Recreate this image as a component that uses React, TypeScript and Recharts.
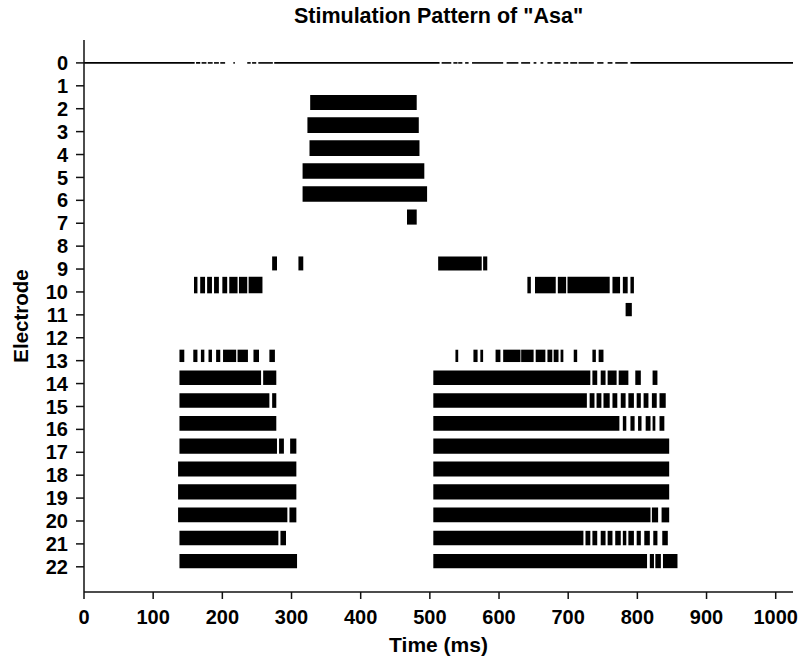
import { ComposedChart, ReferenceArea, Scatter, XAxis, YAxis } from 'recharts';

const FONT = "'Liberation Sans', Arial, sans-serif";

const X_TICKS = [0, 100, 200, 300, 400, 500, 600, 700, 800, 900, 1000];
const ELECTRODES = [0, 1, 2, 3, 4, 5, 6, 7, 8, 9, 10, 11, 12, 13, 14, 15, 16, 17, 18, 19, 20, 21, 22];

// pulse trains per electrode, [start ms, end ms]
const E0 = [
  [0, 160], [162, 168], [170, 177], [179, 186], [188, 195], [197, 204], [216, 218],
  [236, 241], [243, 249], [252, 273], [275, 514], [517, 531], [534, 540], [541, 547],
  [551, 556], [561, 606], [611, 628], [632, 645], [650, 654], [660, 664], [670, 677],
  [680, 689], [693, 700], [703, 713], [715, 737], [742, 751], [757, 764], [768, 786],
  [790, 1025],
];
const E2 = [[327, 481]];
const E3 = [[323, 484]];
const E4 = [[326, 485]];
const E5 = [[316, 492]];
const E6 = [[316, 496]];
const E7 = [[467, 481]];
const E9 = [[272, 279], [310, 317], [512, 575], [577, 583]];
const E10 = [
  [159, 164], [168, 175], [178, 185], [188, 195], [200, 207], [210, 222], [224, 236], [238, 258],
  [641, 646], [652, 682], [685, 697], [699, 760], [764, 775], [779, 786], [790, 795],
];
const E11 = [[783, 792]];
const E13 = [
  [138, 145], [158, 164], [169, 174], [180, 185], [191, 197], [201, 220], [222, 237], [245, 253],
  [268, 276], [537, 541], [563, 569], [573, 577], [595, 602], [606, 631], [632, 650], [653, 667],
  [670, 677], [679, 686], [689, 693], [708, 713], [735, 740], [744, 751],
];
const E14 = [
  [138, 256], [259, 278], [505, 732], [735, 742], [747, 754], [757, 770], [773, 787], [797, 805],
  [822, 829],
];
const E15 = [
  [138, 268], [272, 278], [505, 727], [731, 738], [741, 748], [751, 760], [764, 771], [776, 783],
  [787, 795], [799, 805], [809, 816], [821, 828], [832, 841],
];
const E16 = [
  [138, 278], [505, 774], [779, 784], [790, 796], [801, 806], [812, 819], [822, 826], [832, 839],
];
const E17 = [[138, 279], [282, 289], [298, 307], [505, 846]];
const E18 = [[136, 307], [505, 846]];
const E19 = [[136, 307], [505, 846]];
const E20 = [[136, 294], [297, 307], [505, 819], [821, 830], [835, 846]];
const E21 = [
  [138, 281], [284, 292], [505, 722], [725, 732], [735, 742], [747, 754], [757, 764], [768, 776],
  [779, 784], [787, 795], [799, 805], [810, 818], [823, 829], [836, 844],
];
const E22 = [[138, 308], [505, 814], [818, 824], [826, 834], [837, 858]];

// pulse height above the electrode line (electrode units)
const AMPLITUDE = [
  0.035, 0, 0.6, 0.63, 0.62, 0.62, 0.61, 0.6, 0, 0.55, 0.66, 0.52, 0,
  0.48, 0.57, 0.58, 0.58, 0.6, 0.6, 0.6, 0.59, 0.57, 0.56,
];

const PULSES = [
  E0, [], E2, E3, E4, E5, E6, E7, [], E9, E10, E11, [],
  E13, E14, E15, E16, E17, E18, E19, E20, E21, E22,
];

const tickStyle = { fill: '#000', fontSize: 20, fontWeight: 'bold', fontFamily: FONT };

export default function App() {
  const areas = PULSES.flatMap((segs, e) =>
    segs.map(([t0, t1], i) => (
      <ReferenceArea
        key={`${e}-${i}`}
        x1={t0}
        x2={t1}
        y1={e === 0 ? -AMPLITUDE[0] : e + 0.06}
        y2={e === 0 ? AMPLITUDE[0] : e - AMPLITUDE[e]}
        fill="#000"
        fillOpacity={1}
        stroke="none"
        ifOverflow="visible"
      />
    )),
  );

  return (
    <div
      style={{
        position: 'absolute',
        left: 0,
        top: 0,
        width: 798,
        height: 660,
        background: '#fff',
        fontFamily: FONT,
      }}
    >
      <ComposedChart width={798} height={660} margin={{ top: 40, right: 5, bottom: 0, left: 0 }}>
        <XAxis
          type="number"
          dataKey="t"
          domain={[0, 1025]}
          ticks={X_TICKS}
          allowDataOverflow
          height={68}
          stroke="#111"
          strokeWidth={1.5}
          tickSize={7}
          tickMargin={11}
          tick={tickStyle}
          interval={0}
          label={{
            value: 'Time (ms)',
            position: 'insideBottom',
            offset: 8,
            fill: '#000',
            fontSize: 21,
            fontWeight: 'bold',
            fontFamily: FONT,
          }}
        />
        <YAxis
          type="number"
          dataKey="e"
          domain={[-1, 23.1]}
          ticks={ELECTRODES}
          allowDataOverflow
          reversed
          width={84}
          stroke="#111"
          strokeWidth={1.5}
          tickSize={8}
          tickMargin={8}
          tick={tickStyle}
          interval={0}
          label={{
            value: 'Electrode',
            position: 'insideLeft',
            angle: -90,
            offset: 21,
            fill: '#000',
            fontSize: 20.5,
            fontWeight: 'bold',
            fontFamily: FONT,
            style: { textAnchor: 'middle' },
          }}
        />
        <Scatter data={[]} isAnimationActive={false} />
        {areas}
      </ComposedChart>
      <div
        style={{
          position: 'absolute',
          left: 84,
          width: 709,
          top: 4,
          textAlign: 'center',
          fontSize: 21.5,
          fontWeight: 'bold',
          lineHeight: '24px',
        }}
      >
        Stimulation Pattern of "Asa"
      </div>
    </div>
  );
}
